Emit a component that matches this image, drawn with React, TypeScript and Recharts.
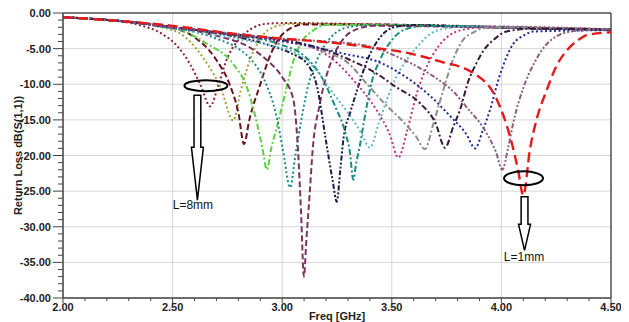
import { LineChart, Line, XAxis, YAxis, CartesianGrid, ReferenceLine, ReferenceDot } from 'recharts'

// S11 sweeps for stub length L = 8mm ... 1mm (0.5mm steps), [freq GHz, dB]
const L80 = [[2.0, -0.6], [2.2, -1.0], [2.35, -1.7], [2.45, -2.9], [2.52, -4.6], [2.58, -7.2], [2.63, -10.3], [2.671, -13.1], [2.71, -10.0], [2.746, -6.6], [2.8, -3.8], [2.86, -2.2], [2.93, -1.5], [3.05, -1.4], [3.4, -1.6], [3.9, -1.9], [4.5, -2.3]]
const L75 = [[2.0, -0.6], [2.25, -1.1], [2.45, -2.0], [2.55, -3.2], [2.655, -7.0], [2.72, -10.5], [2.777, -15.1], [2.81, -11.0], [2.853, -6.6], [2.9, -3.6], [2.96, -2.0], [3.05, -1.5], [3.4, -1.6], [3.9, -1.9], [4.5, -2.3]]
const L70 = [[2.0, -0.6], [2.25, -1.1], [2.5, -2.1], [2.6, -3.4], [2.7, -6.6], [2.76, -10.0], [2.8, -14.0], [2.826, -18.4], [2.85, -15.0], [2.9, -10.0], [2.937, -6.6], [2.98, -3.8], [3.03, -2.3], [3.1, -1.6], [3.4, -1.6], [3.9, -2.0], [4.5, -2.4]]
const L65 = [[2.0, -0.6], [2.25, -1.1], [2.45, -1.8], [2.55, -2.5], [2.65, -4.2], [2.78, -7.3], [2.84, -10.5], [2.87, -13.6], [2.91, -19.0], [2.93, -22.0], [2.95, -19.0], [2.98, -15.5], [3.02, -10.5], [3.05, -6.8], [3.09, -4.0], [3.14, -2.5], [3.2, -1.7], [3.5, -1.7], [4.0, -2.0], [4.5, -2.3]]
const L60 = [[2.0, -0.6], [2.25, -1.1], [2.5, -2.0], [2.7, -3.6], [2.8, -5.0], [2.86, -6.6], [2.92, -9.5], [2.97, -14.0], [3.005, -19.5], [3.036, -24.5], [3.06, -20.0], [3.09, -14.5], [3.12, -10.0], [3.16, -6.5], [3.22, -3.5], [3.3, -2.0], [3.4, -1.7], [4.0, -2.0], [4.5, -2.4]]
const L55 = [[2.0, -0.6], [2.25, -1.1], [2.5, -2.0], [2.7, -3.2], [2.85, -4.8], [2.93, -6.6], [3.0, -9.0], [3.05, -12.0], [3.072, -19.2], [3.086, -28.0], [3.099, -37.0], [3.11, -32.0], [3.125, -25.5], [3.139, -19.2], [3.17, -13.0], [3.2, -9.0], [3.226, -6.6], [3.27, -4.0], [3.33, -2.4], [3.42, -1.8], [3.9, -2.0], [4.5, -2.4]]
const L50 = [[2.0, -0.6], [2.25, -1.1], [2.5, -2.1], [2.75, -3.1], [2.95, -4.6], [3.05, -5.8], [3.11, -7.0], [3.16, -10.5], [3.2, -18.0], [3.23, -23.5], [3.249, -26.5], [3.265, -22.0], [3.28, -17.5], [3.31, -14.0], [3.34, -11.0], [3.39, -6.5], [3.45, -3.3], [3.51, -2.0], [3.6, -1.7], [4.0, -2.0], [4.5, -2.4]]
const L45 = [[2.0, -0.6], [2.25, -1.1], [2.5, -2.0], [2.75, -3.0], [3.0, -4.5], [3.1, -6.0], [3.18, -9.0], [3.24, -13.0], [3.29, -17.0], [3.309, -19.5], [3.324, -23.4], [3.338, -21.0], [3.352, -19.0], [3.38, -14.0], [3.41, -9.5], [3.446, -6.6], [3.5, -3.8], [3.56, -2.3], [3.65, -1.8], [4.0, -2.0], [4.5, -2.4]]
const L40 = [[2.0, -0.6], [2.25, -1.1], [2.5, -2.2], [2.75, -3.4], [2.95, -4.6], [3.08, -5.9], [3.16, -8.2], [3.233, -11.3], [3.3, -14.0], [3.36, -16.8], [3.4, -18.9], [3.44, -15.5], [3.477, -12.2], [3.52, -9.0], [3.568, -6.6], [3.62, -4.6], [3.66, -3.3], [3.74, -2.2], [3.85, -1.9], [4.5, -2.3]]
const L35 = [[2.0, -0.6], [2.25, -1.1], [2.5, -2.0], [2.75, -3.0], [3.0, -4.0], [3.15, -5.0], [3.25, -7.0], [3.324, -9.4], [3.43, -13.6], [3.49, -17.0], [3.53, -20.3], [3.57, -16.5], [3.614, -11.3], [3.66, -7.5], [3.71, -4.8], [3.77, -3.0], [3.85, -2.2], [3.95, -1.9], [4.5, -2.3]]
const L30 = [[2.0, -0.6], [2.25, -1.1], [2.5, -2.0], [2.75, -2.9], [3.0, -3.8], [3.2, -5.5], [3.3, -7.0], [3.385, -9.9], [3.47, -12.8], [3.55, -15.2], [3.61, -17.3], [3.651, -19.1], [3.69, -15.5], [3.735, -10.8], [3.78, -6.5], [3.82, -4.0], [3.88, -2.6], [3.95, -2.0], [4.5, -2.3]]
const L25 = [[2.0, -0.6], [2.25, -1.1], [2.5, -2.0], [2.75, -2.9], [3.08, -4.2], [3.2, -5.2], [3.31, -6.6], [3.42, -8.3], [3.52, -10.4], [3.63, -12.7], [3.7, -15.5], [3.743, -18.9], [3.78, -16.0], [3.811, -13.6], [3.85, -9.5], [3.887, -7.0], [3.92, -5.2], [3.963, -3.8], [4.024, -2.6], [4.144, -2.2], [4.5, -2.3]]
const L20 = [[2.0, -0.6], [2.25, -1.1], [2.5, -2.0], [2.75, -2.9], [3.0, -3.9], [3.28, -5.7], [3.45, -7.0], [3.54, -8.5], [3.67, -11.5], [3.77, -14.6], [3.84, -17.0], [3.88, -19.0], [3.915, -16.5], [3.948, -13.6], [3.99, -9.0], [4.055, -4.3], [4.1, -3.2], [4.146, -2.6], [4.5, -2.4]]
const L15 = [[2.0, -0.6], [2.25, -1.1], [2.5, -2.0], [2.75, -2.8], [3.0, -3.6], [3.2, -4.0], [3.385, -4.6], [3.55, -6.5], [3.69, -8.9], [3.78, -11.0], [3.841, -13.2], [3.933, -16.9], [3.975, -19.5], [4.004, -22.0], [4.03, -19.0], [4.055, -15.3], [4.1, -10.5], [4.15, -7.0], [4.2, -4.6], [4.25, -3.3], [4.34, -2.5], [4.5, -2.3]]
const L10 = [[2.0, -0.6], [2.25, -1.1], [2.5, -1.8], [2.75, -2.8], [3.0, -3.6], [3.17, -4.0], [3.4, -4.8], [3.6, -5.8], [3.72, -6.8], [3.87, -8.4], [3.98, -12.2], [4.04, -17.4], [4.076, -22.0], [4.1, -25.6], [4.13, -19.2], [4.16, -15.0], [4.207, -10.8], [4.25, -7.5], [4.3, -5.2], [4.35, -3.8], [4.39, -3.1], [4.5, -2.7]]

const X_MAJOR = [2.0, 2.5, 3.0, 3.5, 4.0, 4.5]
const Y_MAJOR = [-40, -35, -30, -25, -20, -15, -10, -5, 0]

const DOT = '2 2.5'
const DASH = '6 3'
const LONG = '10 5'
const DASHDOT = '6 2.5 2 2.5'
const DASHDOTDOT = '5 2 2 2 2 2'

const SERIES = [
  { id: 'L8.0', data: L80, color: '#8a2232', dash: DOT },
  { id: 'L7.5', data: L75, color: '#a3a23a', dash: DOT },
  { id: 'L7.0', data: L70, color: '#6a1420', dash: DASH },
  { id: 'L6.5', data: L65, color: '#5cd040', dash: DASHDOT },
  { id: 'L6.0', data: L60, color: '#1f8a8a', dash: DOT },
  { id: 'L5.5', data: L55, color: '#7a3462', dash: DASH },
  { id: 'L5.0', data: L50, color: '#1c1c48', dash: DASHDOTDOT },
  { id: 'L4.5', data: L45, color: '#1a8c7c', dash: DASHDOT },
  { id: 'L4.0', data: L40, color: '#62b8c0', dash: DOT },
  { id: 'L3.5', data: L35, color: '#b8358a', dash: DOT },
  { id: 'L3.0', data: L30, color: '#8c8c8c', dash: DASHDOT },
  { id: 'L2.5', data: L25, color: '#3a1838', dash: DASHDOT },
  { id: 'L2.0', data: L20, color: '#1e2a8c', dash: DOT },
  { id: 'L1.5', data: L15, color: '#8c6080', dash: DASHDOTDOT },
  { id: 'L1.0', data: L10, color: '#e31a1c', dash: LONG },
]

// ellipse + hollow arrow callouts, anchored in data coords
const CALLOUTS = [
  { label: 'L=8mm', f: 2.652, db: -10.2, rx: 21.5, ry: 5.5, ax: -8.5, top: 9.5, head: 61.5, tip: 114.5, tx: -13, ty: 123.5 },
  { label: 'L=1mm', f: 4.101, db: -23.2, rx: 19.5, ry: 7, ax: 1, top: 18.5, head: 46, tip: 72, tx: 0.5, ty: 83 },
]

const FONT = '"Liberation Sans", Arial, sans-serif'
const AXIS = '#444'

const subdivide = (majors: number[], step: number) =>
  majors.flatMap((v, i) =>
    i === majors.length - 1 ? [v] : [0, 1, 2, 3, 4].map((k) => +(v + k * step).toFixed(2))
  )

const xTicks = subdivide(X_MAJOR, 0.1)
const yTicks = subdivide(Y_MAJOR, 1)

function XTick({ x, y, payload }: any) {
  const v = payload.value
  const major = Math.round(v * 10) % 5 === 0
  return (
    <g>
      <line x1={x} x2={x} y1={y} y2={y + (major ? 5 : 3)} stroke={AXIS} strokeWidth={1} />
      {major && (
        <text x={x} y={y + 13} textAnchor="middle" fontFamily={FONT} fontWeight="bold" fontSize={11} fill="#222">
          {v.toFixed(2)}
        </text>
      )}
    </g>
  )
}

function YTick({ x, y, payload }: any) {
  const v = payload.value
  const major = Math.abs(v % 5) < 1e-6
  return (
    <g>
      <line x1={x - (major ? 10 : 5)} x2={x} y1={y} y2={y} stroke={AXIS} strokeWidth={1} />
      {major && (
        <text x={x - 12} y={y + 4} textAnchor="end" fontFamily={FONT} fontWeight="bold" fontSize={11} fill="#222">
          {v.toFixed(2)}
        </text>
      )}
    </g>
  )
}

function XTitle({ viewBox }: any) {
  const vb = viewBox ?? { x: 55, y: 290, width: 548, height: 24 }
  return (
    <text x={vb.x + vb.width / 2} y={vb.y + 22} textAnchor="middle" fontFamily={FONT} fontWeight="bold" fontSize={11} fill="#222">
      Freq [GHz]
    </text>
  )
}

function YTitle({ viewBox }: any) {
  const vb = viewBox ?? { x: 0, y: 5, width: 55, height: 285 }
  const cx = vb.x + 10
  const cy = vb.y + vb.height / 2
  return (
    <text x={cx} y={cy} transform={`rotate(-90 ${cx} ${cy})`} textAnchor="middle" dominantBaseline="central"
      fontFamily={FONT} fontWeight="bold" fontSize={11} fill="#222">
      Return Loss dB(S(1,1))
    </text>
  )
}

function Callout(c: (typeof CALLOUTS)[number]) {
  return ({ cx, cy }: any) => {
    const ax = cx + c.ax
    const pts = [
      [ax - 3.4, cy + c.top], [ax + 3.4, cy + c.top], [ax + 3.4, cy + c.head], [ax + 6, cy + c.head],
      [ax, cy + c.tip], [ax - 6, cy + c.head], [ax - 3.4, cy + c.head],
    ].map((p) => p.join(',')).join(' ')
    return (
      <g>
        <ellipse cx={cx} cy={cy} rx={c.rx} ry={c.ry} fill="none" stroke="#000" strokeWidth={2} />
        <polygon points={pts} fill="#fff" stroke="#000" strokeWidth={1.5} />
        <text x={cx + c.tx} y={cy + c.ty} textAnchor="middle" fontFamily={FONT} fontSize={12} fill="#111">
          {c.label}
        </text>
      </g>
    )
  }
}

export default function App() {
  return (
    <div style={{ width: 621, height: 314, background: '#fff' }}>
      <LineChart width={621} height={314} margin={{ top: 5, right: 18, bottom: 0, left: 0 }}>
        <CartesianGrid
          stroke="#d6d6d6"
          strokeWidth={1}
          horizontalValues={Y_MAJOR}
          verticalValues={X_MAJOR}
        />
        <XAxis
          type="number"
          dataKey="f"
          domain={[2, 4.5]}
          ticks={xTicks}
          interval={0}
          allowDataOverflow
          tickLine={false}
          tickSize={0}
          tickMargin={0}
          tick={<XTick />}
          height={24}
          axisLine={{ stroke: AXIS, strokeWidth: 1.5 }}
          label={<XTitle />}
        />
        <YAxis
          type="number"
          domain={[-40, 0]}
          ticks={yTicks}
          interval={0}
          allowDataOverflow
          tickLine={false}
          tickSize={0}
          tickMargin={0}
          tick={<YTick />}
          width={55}
          axisLine={{ stroke: AXIS, strokeWidth: 1.5 }}
          label={<YTitle />}
        />
        <ReferenceLine y={0} stroke="#555" strokeWidth={1.5} />
        <ReferenceLine x={4.5} stroke="#555" strokeWidth={1.5} />
        {SERIES.map((s) => (
          <Line
            key={s.id}
            data={s.data.map(([f, db]) => ({ f, db }))}
            dataKey="db"
            type="monotone"
            stroke={s.color}
            strokeWidth={s.dash === LONG ? 2.4 : 2}
            strokeDasharray={s.dash}
            dot={false}
            activeDot={false}
            isAnimationActive={false}
          />
        ))}
        {CALLOUTS.map((c) => (
          <ReferenceDot key={c.label} x={c.f} y={c.db} r={0} ifOverflow="visible" shape={Callout(c)} />
        ))}
      </LineChart>
    </div>
  )
}
